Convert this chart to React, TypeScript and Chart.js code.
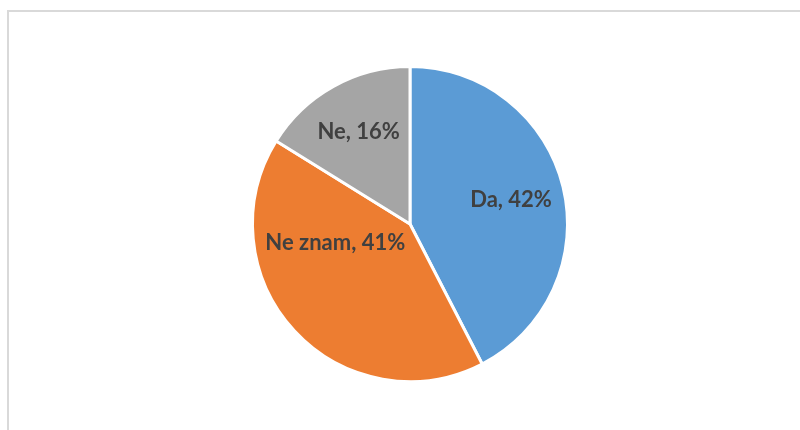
import React, { useEffect, useRef } from "react";
import { Chart, registerables } from "chart.js";

Chart.register(...registerables);

const categories = ["Da", "Ne znam", "Ne"];
const values = [42, 41, 16];
const colors = ["#5B9BD5", "#ED7D31", "#A5A5A5"];
// label anchor within each slice: fraction of slice angle, fraction of radius
const labelAngleFrac = [0.5, 0.69, 0.5];
const labelRadiusFrac = [0.66, 0.49, 0.67];

const labelPlugin = {
  id: "sliceLabels",
  afterDatasetsDraw(chart: any) {
    const ctx = chart.ctx;
    const meta = chart.getDatasetMeta(0);
    ctx.save();
    ctx.font = "bold 22px Lato, 'Open Sans', sans-serif";
    ctx.fillStyle = "#404040";
    ctx.textAlign = "center";
    ctx.textBaseline = "middle";
    meta.data.forEach((arc: any, i: number) => {
      const { x, y, startAngle, endAngle, outerRadius } = arc.getProps(
        ["x", "y", "startAngle", "endAngle", "outerRadius"],
        true
      );
      const a = startAngle + (endAngle - startAngle) * labelAngleFrac[i];
      const r = outerRadius * labelRadiusFrac[i];
      const lx = x + Math.cos(a) * r;
      const ly = y + Math.sin(a) * r;
      ctx.fillText(`${categories[i]}, ${values[i]}%`, lx, ly);
    });
    ctx.restore();
  },
};

export default function App() {
  const ref = useRef<HTMLCanvasElement>(null);
  useEffect(() => {
    if (!ref.current) return;
    const chart = new Chart(ref.current, {
      type: "pie",
      data: {
        labels: categories,
        datasets: [
          {
            data: values,
            backgroundColor: colors,
            borderColor: "#ffffff",
            borderWidth: 3,
          },
        ],
      },
      options: {
        animation: false,
        responsive: false,
        maintainAspectRatio: false,
        layout: { padding: { top: 65, bottom: 47, left: 251, right: 231 } },
        plugins: {
          legend: { display: false },
          tooltip: { enabled: false },
        },
      },
      plugins: [labelPlugin],
    });
    return () => chart.destroy();
  }, []);
  return (
    <div style={{ position: "fixed", left: 0, top: 0, width: 800, height: 430, background: "#fff", overflow: "hidden" }}>
      <div
        style={{
          position: "absolute",
          left: 7,
          top: 10,
          width: 820,
          height: 440,
          border: "2px solid #d9d9d9",
          boxSizing: "border-box",
        }}
      />
      <canvas ref={ref} width={800} height={430} style={{ position: "absolute", left: 0, top: 0 }} />
    </div>
  );
}
